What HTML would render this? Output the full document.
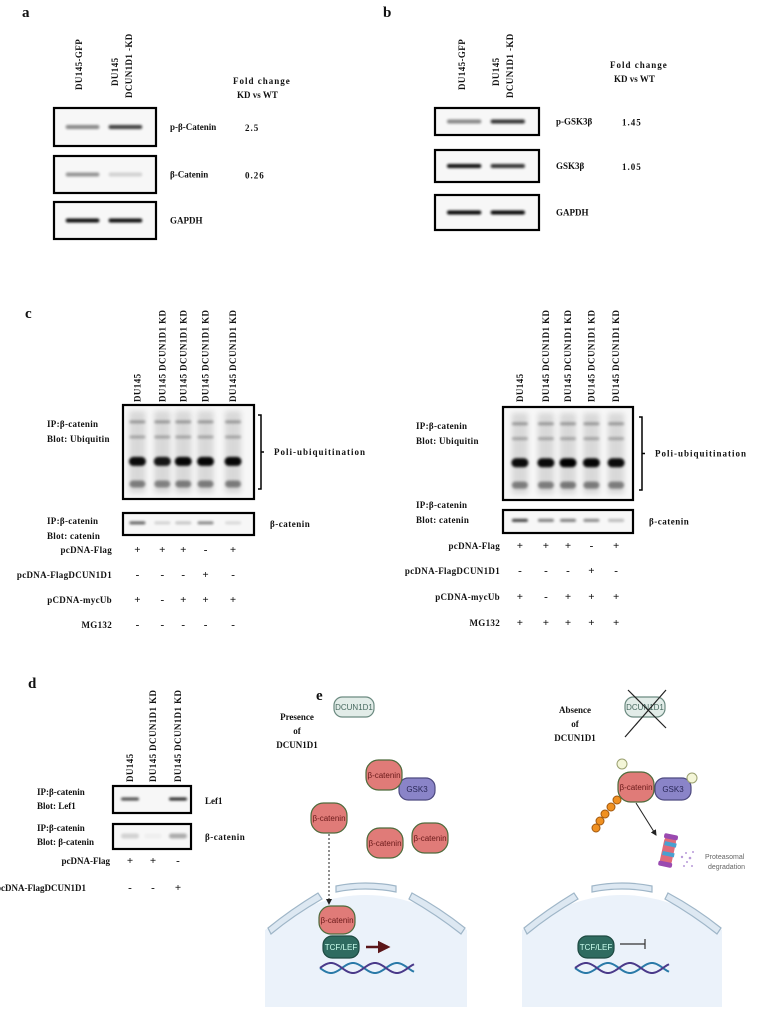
<!DOCTYPE html>
<html><head><meta charset="utf-8"><style>
html,body{margin:0;padding:0;background:#fff;}
svg{display:block;}
text{font-family:"Liberation Serif",serif;font-weight:bold;fill:#111;}
.s{font-family:"Liberation Sans",sans-serif;font-weight:normal;}
</style></head><body>
<svg id="fig" width="760" height="1018" viewBox="0 0 760 1018" xmlns="http://www.w3.org/2000/svg">
<defs>
<filter id="bl" x="-30%" y="-200%" width="160%" height="500%"><feGaussianBlur stdDeviation="1.3"/></filter>
<filter id="bl2" x="-30%" y="-100%" width="160%" height="300%"><feGaussianBlur stdDeviation="3"/></filter>
<marker id="ah" markerWidth="6" markerHeight="6" refX="5" refY="3" orient="auto"><path d="M0,0L6,3L0,6z" fill="#222"/></marker>
<marker id="ahr" markerWidth="5" markerHeight="5" refX="4" refY="2.5" orient="auto"><path d="M0,0L5,2.5L0,5z" fill="#5a1518"/></marker>
</defs>
<g id="panels"></g>

<g>
<text x="316" y="700" font-size="15">e</text>
<path d="M265,930 Q366,860 467,930 L467,1007 L265,1007 Z" fill="#ebf2fa"/>
<g fill="#dde8f2" stroke="#9fb6c8" stroke-width="1.2">
<path d="M268,928 Q290,910 318,893 L322,899 Q294,915 271,934Z"/>
<path d="M336,886 Q365,880 396,886 L396,892 Q365,886 336,892Z"/>
<path d="M412,893 Q440,908 465,928 L461,934 Q437,915 409,899Z"/>
</g>
<path d="M522,930 Q622,860 722,930 L722,1007 L522,1007 Z" fill="#ebf2fa"/>
<g fill="#dde8f2" stroke="#9fb6c8" stroke-width="1.2">
<path d="M524,928 Q546,910 574,893 L578,899 Q550,915 527,934Z"/>
<path d="M592,886 Q622,880 652,886 L652,892 Q622,886 592,892Z"/>
<path d="M668,893 Q696,908 721,928 L717,934 Q693,915 665,899Z"/>
</g>
<text x="297" y="720" font-size="9" text-anchor="middle">Presence<tspan x="297" dy="14">of</tspan><tspan x="297" dy="14">DCUN1D1</tspan></text>
<text x="575" y="713" font-size="9" text-anchor="middle">Absence<tspan x="575" dy="14">of</tspan><tspan x="575" dy="14">DCUN1D1</tspan></text>
<g id="pills"></g>
<line x1="329" y1="834" x2="329" y2="904" stroke="#222" stroke-width="1" stroke-dasharray="2,2" marker-end="url(#ah)"/>
<line x1="366" y1="947" x2="388" y2="947" stroke="#5a1518" stroke-width="2.5" marker-end="url(#ahr)"/>
<path d="M620,944 L645,944 M645,939 L645,949" stroke="#333" stroke-width="1.2"/>
<line x1="625" y1="737" x2="666" y2="690" stroke="#222" stroke-width="1.2"/>
<line x1="628" y1="690" x2="666" y2="728" stroke="#222" stroke-width="1.2"/>
<line x1="636" y1="803" x2="656" y2="835" stroke="#222" stroke-width="1" marker-end="url(#ah)"/>
<g>
<rect x="662" y="836" width="12" height="30" rx="5" fill="#e06a7a" transform="rotate(12 668 851)"/>
<rect x="663" y="842" width="12" height="4" fill="#4aa0d0" transform="rotate(12 668 851)"/>
<rect x="663" y="852" width="12" height="4" fill="#4aa0d0" transform="rotate(12 668 851)"/>
<rect x="661" y="834" width="14" height="5" rx="2" fill="#9a4ab0" transform="rotate(12 668 851)"/>
<rect x="661" y="862" width="14" height="5" rx="2" fill="#9a4ab0" transform="rotate(12 668 851)"/>
</g>
<g fill="#b89ad8">
<circle cx="682" cy="857" r="1.2"/><circle cx="686" cy="853" r="1"/><circle cx="690" cy="858" r="1.3"/><circle cx="687" cy="862" r="1"/><circle cx="693" cy="852" r="1"/><circle cx="684" cy="866" r="1"/><circle cx="692" cy="866" r="1"/>
</g>
<text class="s" x="705" y="859" font-size="7" style="fill:#666">Proteasomal</text>
<text class="s" x="708" y="869" font-size="7" style="fill:#666">degradation</text>
<g id="dna"></g>
</g>
</svg>
<script>
const NS="http://www.w3.org/2000/svg";
const root=document.getElementById('panels');
function el(tag,attrs,parent,txt){const e=document.createElementNS(NS,tag);for(const k in attrs)e.setAttribute(k,attrs[k]);if(txt!==undefined)e.textContent=txt;(parent||root).appendChild(e);return e;}

// ---- data ----
const aRows=["p-β-Catenin","β-Catenin","GAPDH"];
const aFold=["2.5","0.26",""];
const aBand=[[0.45,0.75],[0.4,0.15],[0.95,0.95]];
const bRows=["p-GSK3β","GSK3β","GAPDH"];
const bFold=["1.45","1.05",""];
const bBand=[[0.45,0.8],[0.95,0.8],[0.98,0.98]];
const cLanes=["DU145","DU145  DCUN1D1  KD","DU145  DCUN1D1  KD","DU145  DCUN1D1  KD","DU145  DCUN1D1  KD"];
const cUbLeft=[0.95,0.9,0.97,0.97,0.97];
const cUbRight=[0.95,0.95,1.0,0.97,0.95];
const cCatLeft=[0.6,0.15,0.2,0.45,0.12];
const cCatRight=[0.75,0.5,0.5,0.45,0.25];
const cRowNames=["pcDNA-Flag","pcDNA-FlagDCUN1D1","pCDNA-mycUb","MG132"];
const cSignsLeft=[["+","+","+","-","+"],["-","-","-","+","-"],["+","-","+","+","+"],["-","-","-","-","-"]];
const cSignsRight=[["+","+","+","-","+"],["-","-","-","+","-"],["+","-","+","+","+"],["+","+","+","+","+"]];
const cLaneFracLeft=[0.11,0.3,0.46,0.63,0.84];
const cLaneFracRight=[0.13,0.33,0.5,0.68,0.87];
const dLanes=["DU145","DU145  DCUN1D1  KD","DU145  DCUN1D1  KD"];
const dLef=[0.7,0.0,0.85];
const dCat=[0.15,0.03,0.3];
const dRowNames=["pcDNA-Flag","pcDNA-FlagDCUN1D1"];
const dSigns=[["+","+","-"],["-","-","+"]];

function vlabel(x,yb,txt,name){const t=el('text',{x:x,y:yb,'font-size':9,transform:`rotate(-90 ${x} ${yb})`,'letter-spacing':'0.4'},root,txt);

}
function box(x,y,w,h,name){const r=el('rect',{x:x,y:y,width:w,height:h,fill:'#f7f7f7',stroke:'#000','stroke-width':2.2});

}
function band(cx,cy,w,h,op,name){if(op<=0.01)return;const r=el('rect',{x:cx-w/2,y:cy-h/2,width:w,height:h,rx:h/2,fill:'#000',opacity:op,filter:'url(#bl)'});

}
function txt(x,y,s,name,opts){const t=el('text',Object.assign({x:x,y:y,'font-size':9},opts||{}),root,s);

return t;}

function panelAB(label,lx,bx,bw,boxYs,rows,fold,bands,labX,foldX,lanesX,pre){
 txt(lx,17,label,'panel-label-'+pre,{'font-size':15});
 vlabel(lanesX[0],90,"DU145-GFP",pre+'-lane-label-gfp');
 vlabel(lanesX[1]-7,86,"DU145",pre+'-lane-label-kd-line1');
 vlabel(lanesX[1]+7,98,"DCUN1D1 -KD",pre+'-lane-label-kd-line2');
 txt(foldX,bx===54?84:68,"Fold change",pre+'-fold-change-title',{'letter-spacing':'1'});
 txt(foldX+4,bx===54?98:82,"KD vs WT",pre+'-fold-change-subtitle');
 boxYs.forEach((by,i)=>{
  box(bx,by[0],bw,by[1]-by[0],pre+'-blot-'+i);
  const cy=(by[0]+by[1])/2;
  bands[i].forEach((v,j)=>band(bx+bw*(j===0?0.28:0.7),cy,bw*0.33,4,v,pre+'-band-'+i+'-'+j));
  txt(labX,cy+3,rows[i],pre+'-row-label-'+i);
  if(fold[i])txt(foldX+12,cy+4,fold[i],pre+'-fold-value-'+i,{'letter-spacing':'1'});
 });
}
panelAB('a',22,54,102,[[108,146],[156,193],[202,239]],aRows,aFold,aBand,170,233,[82,125],'a');
panelAB('b',383,435,104,[[108,135],[150,182],[195,230]],bRows,bFold,bBand,556,610,[465,506],'b');

txt(25,318,'c','panel-label-c',{'font-size':15});
function panelC(fr,bx,bw,by,bh,sy,sh,ub,cat,signs,labX,rowX,rowYs,bracketX,pre){
 const lx=i=>bx+bw*fr[i];
 cLanes.forEach((l,i)=>vlabel(lx(i)+3,402,l,pre+'-lane-label-'+i));
 box(bx,by,bw,bh,pre+'-ubiquitin-blot');
 cLanes.forEach((l,i)=>{const cx=lx(i);
  const g=el('rect',{x:cx-8,y:by+6,width:16,height:bh-12,fill:'#000',opacity:0.12,filter:'url(#bl2)'});
  
  
  band(cx,by+bh*0.18,16,3,0.3,pre+'-ub-band-top-'+i);
  band(cx,by+bh*0.34,16,3,0.25,pre+'-ub-band-mid-'+i);
  band(cx,by+bh*0.6,17,9,ub[i],pre+'-ub-band-main-'+i);
  band(cx,by+bh*0.84,16,7,ub[i]*0.45,pre+'-ub-band-low-'+i);
 });
 box(bx,sy,bw,sh,pre+'-catenin-blot');
 cat.forEach((v,i)=>band(lx(i),sy+sh*0.45,16,3,v,pre+'-catenin-band-'+i));
 const br=el('path',{d:`M${bracketX},${by+10} l3,0 l0,${bh-20} l-3,0 M${bracketX+3},${by+bh/2} l3,0`,stroke:'#000','stroke-width':1.5,fill:'none'});
 
 
 txt(bracketX+16,by+bh/2+3,'Poli-ubiquitination',pre+'-poli-ubiquitination-label',{'letter-spacing':'1'});
 txt(bx+bw+16,sy+sh/2+3,'β-catenin',pre+'-catenin-label',{'letter-spacing':'0.5'});
 txt(labX,by+22,'IP:β-catenin',pre+'-ip-label-1',{'letter-spacing':'0.3'});
 txt(labX,by+37,'Blot: Ubiquitin',pre+'-blot-label-1',{'letter-spacing':'0.3'});
 signs.forEach((row,r)=>{
  txt(rowX,rowYs[r],cRowNames[r],pre+'-row-name-'+r,{'text-anchor':'end','letter-spacing':'0.3'});
  row.forEach((s,i)=>txt(lx(i),rowYs[r],s,pre+'-sign-'+r+'-'+i,{'text-anchor':'middle','font-size':11}));
 });
}
panelC(cLaneFracLeft,123,131,405,94,513,22,cUbLeft,cCatLeft,cSignsLeft,47,112,[553,578,603,628],258,'c-left');
txt(47,524,'IP:β-catenin','c-left-ip-label-2',{'letter-spacing':'0.3'});
txt(47,539,'Blot: catenin','c-left-blot-label-2',{'letter-spacing':'0.3'});
panelC(cLaneFracRight,503,130,407,93,510,23,cUbRight,cCatRight,cSignsRight,416,500,[549,574,600,626],639,'c-right');
txt(416,508,'IP:β-catenin','c-right-ip-label-2',{'letter-spacing':'0.3'});
txt(416,523,'Blot: catenin','c-right-blot-label-2',{'letter-spacing':'0.3'});

txt(28,688,'d','panel-label-d',{'font-size':15});
const dx=[130,153,178];
dLanes.forEach((l,i)=>vlabel(dx[i]+3,782,l,'d-lane-label-'+i));
box(113,786,78,27,'d-lef1-blot');
dLef.forEach((v,i)=>band(dx[i],799,18,3,v,'d-lef1-band-'+i));
box(113,824,78,25,'d-catenin-blot');
dCat.forEach((v,i)=>band(dx[i],836,18,5,v,'d-catenin-band-'+i));
txt(205,804,'Lef1','d-lef1-label');
txt(205,840,'β-catenin','d-catenin-label',{'letter-spacing':'0.5'});
txt(37,795,'IP:β-catenin','d-ip-label-1');txt(37,809,'Blot: Lef1','d-blot-label-1');
txt(37,831,'IP:β-catenin','d-ip-label-2');txt(37,845,'Blot: β-catenin','d-blot-label-2');
dSigns.forEach((row,r)=>{
 const y=[864,891][r];
 txt(r===0?110:-4,y,dRowNames[r],'d-row-name-'+r,r===0?{'text-anchor':'end'}:{});
 row.forEach((s,i)=>txt(dx[i],y,s,'d-sign-'+r+'-'+i,{'text-anchor':'middle','font-size':11}));
});

const pg=document.getElementById('pills');
function pill(cx,cy,w,h,fill,stroke,label,col,name){
 const g=el('g',{},pg);
 
 
 el('rect',{x:cx-w/2,y:cy-h/2,width:w,height:h,rx:Math.min(w,h)/2.4,fill:fill,stroke:stroke,'stroke-width':1.2},g);
 el('text',{x:cx,y:cy+3,'font-size':8,'text-anchor':'middle',class:'s',style:'fill:'+col},g,label);
}
const RED='#e07b78',RS='#4e6b3c';
pill(354,707,40,20,'#e2ece8','#6b8a80','DCUN1D1','#486a60','dcun1d1-pill-left');
pill(645,707,40,20,'#e2ece8','#6b8a80','DCUN1D1','#486a60','dcun1d1-pill-right');
pill(417,789,36,22,'#8a84c8','#4e4a80','GSK3','#2a2858','gsk3-pill-left');
pill(384,775,36,30,RED,RS,'β-catenin','#6a1a1a','beta-catenin-gsk3-left');
pill(329,818,36,30,RED,RS,'β-catenin','#6a1a1a','beta-catenin-free-1');
pill(385,843,36,30,RED,RS,'β-catenin','#6a1a1a','beta-catenin-free-2');
pill(430,838,36,30,RED,RS,'β-catenin','#6a1a1a','beta-catenin-free-3');
pill(337,920,36,28,RED,RS,'β-catenin','#6a1a1a','beta-catenin-nuclear');
pill(341,947,36,22,'#2f6b60','#1e4a42','TCF/LEF','#cfe','tcf-lef-left');
pill(596,947,36,22,'#2f6b60','#1e4a42','TCF/LEF','#cfe','tcf-lef-right');
pill(673,789,36,22,'#8a84c8','#4e4a80','GSK3','#2a2858','gsk3-pill-right');
[[617,800],[611,807],[605,814],[600,821],[596,828]].forEach((p,i)=>{const c=el('circle',{cx:p[0],cy:p[1],r:4,fill:'#f09020',stroke:'#a05810'},pg);
 
 });
pill(636,787,36,30,RED,RS,'β-catenin','#6a1a1a','beta-catenin-phospho');
[[622,764],[692,778]].forEach((p,i)=>{const c=el('circle',{cx:p[0],cy:p[1],r:5,fill:'#f4f6d8',stroke:'#9aa070'},pg);
 
 });
const dg=document.getElementById('dna');
[[320,415,'left'],[575,670,'right']].forEach(([x0,x1,side])=>{
 ['#2a7aa8','#4a3a8a'].forEach((c,k)=>{let d='';for(let x=x0;x<=x1;x+=2){const y=968+5*Math.sin((x-x0)/7+k*Math.PI);d+=(x===x0?'M':'L')+x+','+y;}
  const p=el('path',{d:d,stroke:c,'stroke-width':2,fill:'none'},dg);
  
  });
});
</script>
</body></html>
